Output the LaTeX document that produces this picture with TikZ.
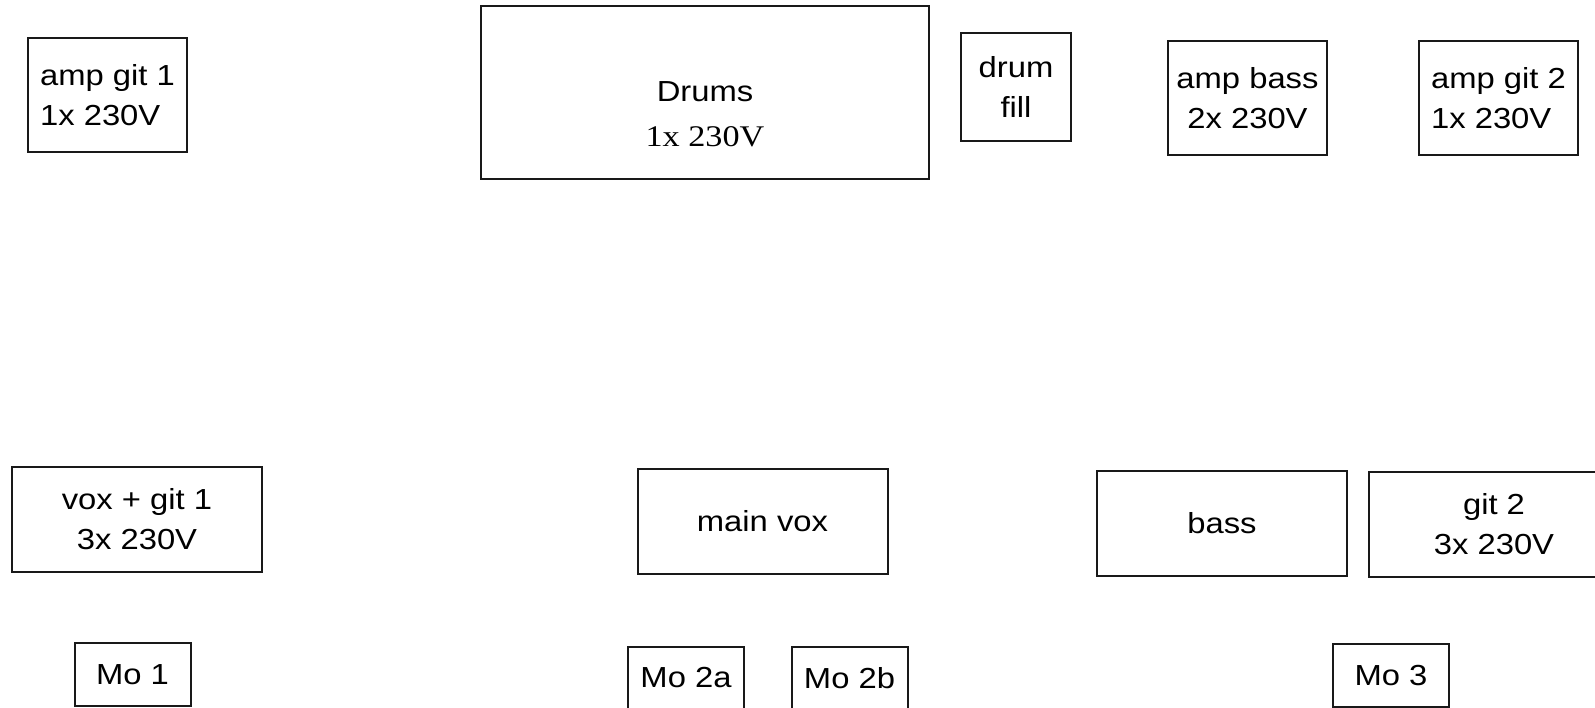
\documentclass[tikz,border=0pt]{standalone}
\usepackage{fontspec}
\setmainfont[FakeStretch=1.13]{Liberation Sans}
\newfontfamily\voltfont[FakeStretch=1.14]{Liberation Serif}

\begin{document}
\begin{tikzpicture}[x=1pt, y=-1pt]
	\tikzstyle{box} = [draw=black!90, line width=2, inner sep=0, align=center, font=\fontsize{29}{40}\selectfont]
	\tikzstyle{amp} = [box, minimum width=159, minimum height=114]
	\tikzstyle{wide} = [box, minimum width=250, minimum height=105]
	\tikzstyle{mon} = [box, minimum width=116, minimum height=63]
	\useasboundingbox (0,0) rectangle (1595,708);
	\clip (0,0) rectangle (1595,708);
	\fill[white] (0,0) rectangle (1595,708);
	% back line
		\node[amp, align=left] (ampgit1) at (107.5,95) {amp git 1\\1x 230V};
		\node[box, minimum width=448, minimum height=173] (drums) at (705,92.5) {};
		\node[inner sep=0, align=center, font=\fontsize{29}{45}\selectfont] (drumslabel) at ([yshift=-22]drums.center) {Drums\\{\voltfont\fontsize{30}{45}\selectfont 1x 230V}};
		\node[box, minimum width=110, minimum height=108] (drumfill) at (1016,87) {drum\\fill};
		\node[amp] (ampbass) at (1247.5,98) {amp bass\\2x 230V};
		\node[amp, align=left] (ampgit2) at (1498.5,98) {amp git 2\\1x 230V};
	% front line
		\node[wide] (voxgit1) at (137,519.5) {vox + git 1\\3x 230V};
		\node[wide] (mainvox) at (762.5,521) {main vox};
		\node[wide] (bass) at (1222,523) {bass};
		\node[wide] (git2) at (1494,524.5) {git 2\\3x 230V};
	% monitors
		\node[mon] (mo1) at (132.5,674.5) {Mo 1};
		\node[mon] (mo2a) at (686,678) {Mo 2a};
		\node[mon] (mo2b) at (849.5,678) {Mo 2b};
		\node[mon] (mo3) at (1391,675.5) {Mo 3};
	\end{tikzpicture}
\end{document}
